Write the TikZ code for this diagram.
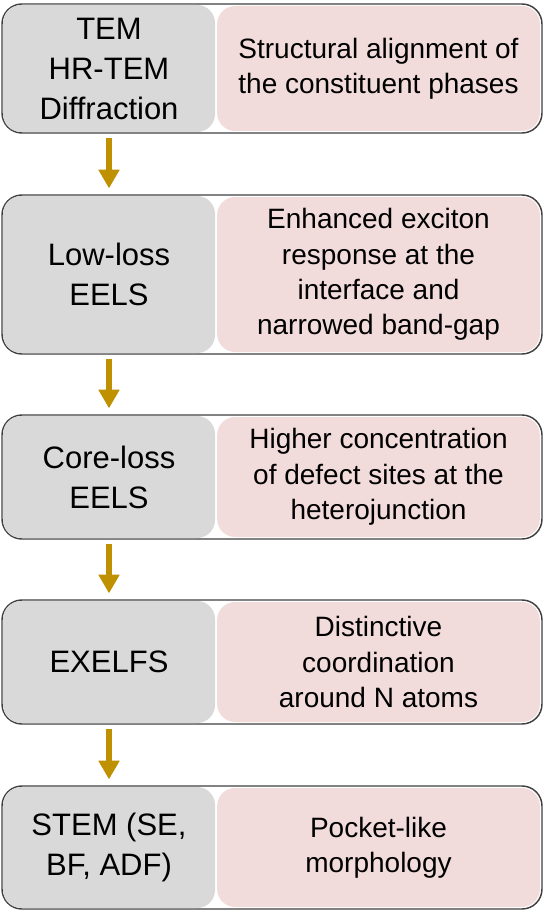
\documentclass[tikz,border=0pt]{standalone}
\usepackage{fontspec}
\setmainfont{Liberation Sans}
\usetikzlibrary{arrows.meta}
\definecolor{methodgray}{HTML}{D9D9D9}
\definecolor{resultpink}{HTML}{F2DCDB}
\definecolor{arrowgold}{HTML}{BF9000}
\definecolor{frameline}{HTML}{404040}

\begin{document}
\begin{tikzpicture}[x=0.75pt,y=-0.75pt,
	rownode/.style={draw=frameline, line width=1.1pt, fill=white, rounded corners=15pt, minimum width=405pt, inner sep=0pt},
	methodnode/.style={fill=methodgray, rounded corners=13.5pt, minimum width=159pt, inner sep=0pt, align=center, font=\fontsize{23.25}{30}\selectfont},
	resultnode/.style={fill=resultpink, rounded corners=13.5pt, minimum width=242pt, inner sep=0pt, align=center, font=\fontsize{21}{26.5}\selectfont},
	flowarrow/.style={line width=4.5pt, draw=arrowgold, -{Triangle[width=15pt,length=14pt]}, shorten <=4pt, shorten >=5.5pt},
	]
	\useasboundingbox (0,0) rectangle (548,913);
	%Rows
	\node[rownode, minimum height=96.75pt]   (row1) at (272,68.5)  {};
	\node[rownode, minimum height=119.25pt]  (row2) at (272,274.5) {};
	\node[rownode, minimum height=93pt]      (row3) at (272,477)   {};
	\node[rownode, minimum height=93pt]      (row4) at (272,662)   {};
	\node[rownode, minimum height=92.25pt]   (row5) at (272,847.5) {};
	%Methods
	\node[methodnode, minimum height=95.25pt]  (m1) at (109,68.5)  {TEM\\HR-TEM\\Diffraction};
	\node[methodnode, minimum height=117.75pt] (m2) at (109,274.5) {Low-loss\\EELS};
	\node[methodnode, minimum height=91.5pt]   (m3) at (109,477)   {Core-loss\\EELS};
	\node[methodnode, minimum height=91.5pt]   (m4) at (109,662)   {EXELFS};
	\node[methodnode, minimum height=90.75pt]  (m5) at (109,847.5) {STEM (SE,\\BF, ADF)};
	%Results
	\node[resultnode, minimum height=93.75pt]  (r1) at (378.5,68.5)  {Structural alignment of\\the constituent phases};
	\node[resultnode, minimum height=116.25pt] (r2) at (378.5,274.5) {Enhanced exciton\\response at the\\interface and\\narrowed band-gap};
	\node[resultnode, minimum height=90pt]     (r3) at (378.5,477)   {Higher concentration\\of defect sites at the\\heterojunction};
	\node[resultnode, minimum height=90pt]     (r4) at (378.5,662)   {Distinctive\\coordination\\around N atoms};
	\node[resultnode, minimum height=89.25pt]  (r5) at (378.5,847.5) {Pocket-like\\morphology};
	%Arrows
	\draw[flowarrow] (m1.south) -- (m2.north);
	\draw[flowarrow] (m2.south) -- (m3.north);
	\draw[flowarrow] (m3.south) -- (m4.north);
	\draw[flowarrow] (m4.south) -- (m5.north);
\end{tikzpicture}
\end{document}
